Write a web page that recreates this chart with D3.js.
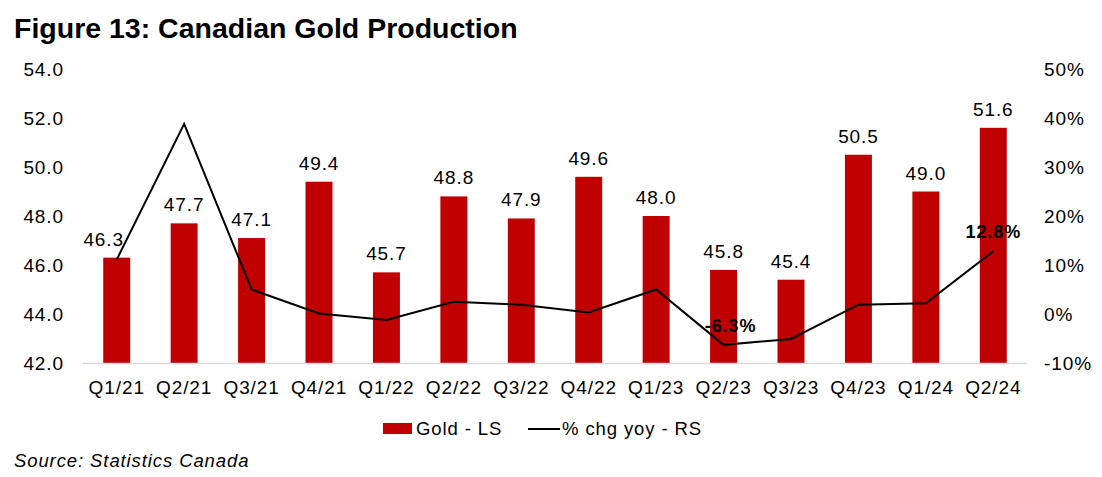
<!DOCTYPE html>
<html>
<head>
<meta charset="utf-8">
<script src="https://cdn.jsdelivr.net/npm/d3@7"></script>
<style>
  html, body { margin: 0; padding: 0; background: #fff; }
  svg { display: block; font-family: "Liberation Sans", Arial, sans-serif; }
  .lbl { letter-spacing: 0.9px; }
</style>
</head>
<body>
<svg id="chart" width="1102" height="477"></svg>
<script>
const categories = ["Q1/21","Q2/21","Q3/21","Q4/21","Q1/22","Q2/22","Q3/22","Q4/22","Q1/23","Q2/23","Q3/23","Q4/23","Q1/24","Q2/24"];
const gold = [46.3,47.7,47.1,49.4,45.7,48.8,47.9,49.6,48.0,45.8,45.4,50.5,49.0,51.6];
const pctChg = [11.1,38.8,5.0,0.1,-1.2,2.5,1.9,0.3,5.0,-6.3,-5.1,1.9,2.2,12.8];
const leftTicks = [42,44,46,48,50,52,54];
const rightTicks = [-10,0,10,20,30,40,50];
const highlighted = ["Q2/23","Q2/24"];

const svg = d3.select("#chart");
const m = {left: 83, right: 1027, top: 69, bottom: 363};

const x = d3.scaleBand().domain(categories).range([m.left, m.right]).paddingInner(0.6).paddingOuter(0.3);
const yL = d3.scaleLinear().domain([42, 54]).range([m.bottom, m.top]);
const yR = d3.scaleLinear().domain([-10, 50]).range([m.bottom, m.top]);

// title
svg.append("text").attr("x", 14).attr("y", 38)
  .attr("font-size", 28.5).attr("font-weight", "bold").attr("fill", "#000")
  .text("Figure 13: Canadian Gold Production");

// left axis
const gL = svg.append("g").attr("transform", `translate(${m.left},0)`)
  .call(d3.axisLeft(yL).tickValues(leftTicks).tickFormat(d3.format(".1f")).tickSize(0).tickPadding(19));
gL.select(".domain").remove();
gL.selectAll("text").attr("class", "lbl").attr("font-size", 19).attr("fill", "#000").attr("font-family", "Liberation Sans, Arial, sans-serif");

// right axis
const gR = svg.append("g").attr("transform", `translate(${m.right},0)`)
  .call(d3.axisRight(yR).tickValues(rightTicks).tickFormat(d => d + "%").tickSize(0).tickPadding(17));
gR.select(".domain").remove();
gR.selectAll("text").attr("class", "lbl").attr("font-size", 19).attr("fill", "#000").attr("font-family", "Liberation Sans, Arial, sans-serif");

// bars
svg.append("g").selectAll("rect").data(categories).join("rect")
  .attr("x", d => x(d)).attr("width", x.bandwidth())
  .attr("y", (d, i) => yL(gold[i])).attr("height", (d, i) => yL(42) - yL(gold[i]))
  .attr("fill", "#C00000");

// baseline
svg.append("line").attr("x1", m.left).attr("x2", m.right).attr("y1", m.bottom + 0.5).attr("y2", m.bottom + 0.5)
  .attr("stroke", "#d9d9d9").attr("stroke-width", 1.5);

// x axis labels
const gX = svg.append("g").attr("transform", `translate(0,${m.bottom})`)
  .call(d3.axisBottom(x).tickSize(0).tickPadding(18));
gX.select(".domain").remove();
gX.selectAll("text").attr("class", "lbl").attr("font-size", 19).attr("fill", "#000").attr("font-family", "Liberation Sans, Arial, sans-serif");

// line
const line = d3.line().x((d, i) => x(categories[i]) + x.bandwidth() / 2).y(d => yR(d));
svg.append("path").datum(pctChg).attr("d", line)
  .attr("fill", "none").attr("stroke", "#000").attr("stroke-width", 2).attr("stroke-linejoin", "miter");

// bar value labels
const nudge = {"Q1/21": -13};
svg.append("g").selectAll("text").data(categories).join("text")
  .attr("class", "lbl")
  .attr("x", d => x(d) + x.bandwidth() / 2 + (nudge[d] || 0))
  .attr("y", (d, i) => yL(gold[i]) - 12)
  .attr("text-anchor", "middle").attr("font-size", 19).attr("fill", "#000")
  .text((d, i) => gold[i].toFixed(1));

// line labels (bold)
svg.append("g").selectAll("text").data(highlighted).join("text")
  .attr("class", "lbl")
  .attr("x", d => x(d) + x.bandwidth() / 2 + (d === "Q2/23" ? 7 : 0))
  .attr("y", d => yR(pctChg[categories.indexOf(d)]) - 13)
  .attr("text-anchor", "middle").attr("font-size", 18).attr("font-weight", "bold").attr("fill", "#000")
  .text(d => pctChg[categories.indexOf(d)].toFixed(1) + "%");

// legend
const lg = svg.append("g");
lg.append("rect").attr("x", 383).attr("y", 423).attr("width", 29).attr("height", 11).attr("fill", "#C00000");
lg.append("text").attr("class", "lbl").attr("x", 416).attr("y", 435).attr("font-size", 18.5).attr("fill", "#000").text("Gold - LS");
lg.append("line").attr("x1", 528).attr("x2", 560).attr("y1", 429).attr("y2", 429).attr("stroke", "#000").attr("stroke-width", 2);
lg.append("text").attr("class", "lbl").attr("x", 562).attr("y", 435).attr("font-size", 18.5).attr("fill", "#000").text("% chg yoy - RS");

// source
svg.append("text").attr("class", "lbl").attr("x", 14).attr("y", 467).attr("font-size", 18.5).attr("font-style", "italic").attr("fill", "#000")
  .text("Source: Statistics Canada");
</script>
</body>
</html>
